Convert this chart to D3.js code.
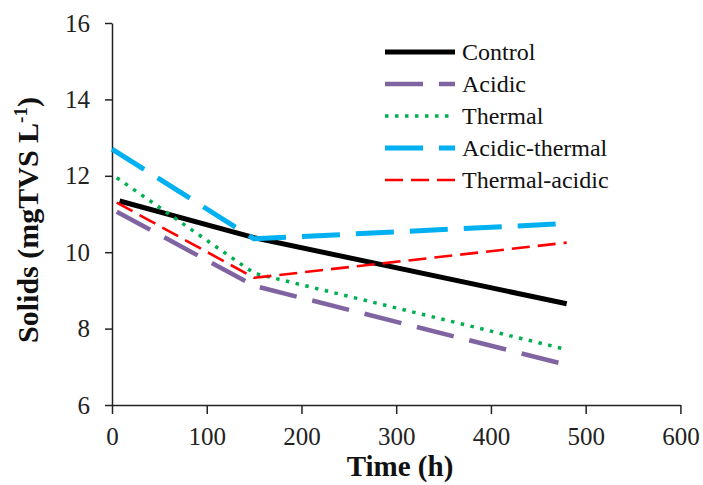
<!DOCTYPE html>
<html>
<head>
<meta charset="utf-8">
<script src="https://cdn.jsdelivr.net/npm/d3@7"></script>
<style>
  html, body { margin: 0; padding: 0; background: #fff; }
  svg { display: block; }
</style>
</head>
<body>
<svg id="chart" width="703" height="485"></svg>
<script>
// ---- data ----
const seriesNames = ["Control", "Acidic", "Thermal", "Acidic-thermal", "Thermal-acidic"];
const controlTime = [8, 150, 480];
const controlValues = [11.34, 10.38, 8.65];
const acidicTime = [5, 150, 480];
const acidicValues = [11.06, 9.12, 7.05];
const thermalTime = [5, 150, 480];
const thermalValues = [11.95, 9.45, 7.45];
const acidicThermalTime = [0, 150, 480];
const acidicThermalValues = [12.7, 10.35, 10.75];
const thermalAcidicTime = [5, 150, 480];
const thermalAcidicValues = [11.3, 9.33, 10.25];
const xTicks = [0, 100, 200, 300, 400, 500, 600];
const yTicks = [6, 8, 10, 12, 14, 16];

// ---- styles ----
const styles = [
  { color: "#000000", width: 5, dash: null, cap: "butt" },
  { color: "#8064a2", width: 4.5, dash: "38,16", cap: "butt" },
  { color: "#00b050", width: 3.5, dash: "3.5,6.5", cap: "butt" },
  { color: "#00b0f0", width: 5, dash: "38,16", cap: "butt" },
  { color: "#ff0000", width: 2.6, dash: "18,8", cap: "butt" }
];
const seriesData = [
  [controlTime, controlValues],
  [acidicTime, acidicValues],
  [thermalTime, thermalValues],
  [acidicThermalTime, acidicThermalValues],
  [thermalAcidicTime, thermalAcidicValues]
].map(([t, v]) => t.map((d, i) => ({ t: d, v: v[i] })));

const svg = d3.select("#chart");
const x = d3.scaleLinear().domain([0, 600]).range([112, 680.4]);
const y = d3.scaleLinear().domain([6, 16]).range([405, 23]);
const font = "'Liberation Serif', 'Times New Roman', serif";
const axisColor = "#222";

// minor ticks
const gx = svg.append("g").attr("transform", "translate(0,405)");
gx.call(d3.axisBottom(x).tickValues(d3.range(50, 600, 100)).tickSize(6).tickFormat(""))
  .call(g => g.select(".domain").remove());
gx.call(d3.axisBottom(x).tickValues(xTicks).tickSize(9).tickSizeOuter(0).tickPadding(13).tickFormat(d3.format("d")));
gx.selectAll("line, path").attr("stroke", axisColor).attr("stroke-width", 1.5);
gx.selectAll("text").attr("font-family", font).attr("font-size", 25).attr("fill", "#222");

const gy = svg.append("g").attr("transform", "translate(112,0)");
gy.call(d3.axisLeft(y).tickValues(d3.range(7, 16, 2)).tickSize(5).tickFormat(""))
  .call(g => g.select(".domain").remove());
gy.call(d3.axisLeft(y).tickValues(yTicks).tickSize(7).tickSizeOuter(0).tickPadding(15).tickFormat(d3.format("d")));
gy.selectAll("line, path").attr("stroke", axisColor).attr("stroke-width", 1.5);
gy.selectAll("text").attr("font-family", font).attr("font-size", 25).attr("fill", "#222");

// lines
const line = d3.line().x(d => x(d.t)).y(d => y(d.v));
seriesData.forEach((data, i) => {
  const s = styles[i];
  svg.append("path")
    .datum(data)
    .attr("d", line)
    .attr("fill", "none")
    .attr("stroke", s.color)
    .attr("stroke-width", s.width)
    .attr("stroke-dasharray", s.dash)
    .attr("stroke-linecap", s.cap)
    .attr("stroke-linejoin", "round");
});

// legend
const legY = d3.scalePoint().domain(seriesNames).range([52, 180]);
const leg = svg.append("g");
seriesNames.forEach((name, i) => {
  const s = styles[i];
  leg.append("line")
    .attr("x1", 385).attr("x2", 455)
    .attr("y1", legY(name)).attr("y2", legY(name))
    .attr("stroke", s.color)
    .attr("stroke-width", s.width)
    .attr("stroke-dasharray", s.dash)
    .attr("stroke-linecap", s.cap);
  leg.append("text")
    .attr("x", 462).attr("y", legY(name))
    .attr("dy", "0.33em")
    .attr("font-family", font)
    .attr("font-size", 24)
    .attr("fill", "#111")
    .text(name);
});

// axis titles
svg.append("text")
  .attr("x", 400).attr("y", 476)
  .attr("text-anchor", "middle")
  .attr("font-family", font)
  .attr("font-weight", "bold")
  .attr("font-size", 29)
  .attr("fill", "#111")
  .text("Time (h)");

const yt = svg.append("text")
  .attr("transform", "translate(38,220) rotate(-90)")
  .attr("text-anchor", "middle")
  .attr("font-family", font)
  .attr("font-weight", "bold")
  .attr("font-size", 30)
  .attr("fill", "#111");
yt.append("tspan").text("Solids (mgTVS L");
yt.append("tspan").attr("font-size", 19).attr("dy", -11).text("-1");
yt.append("tspan").attr("dy", 11).text(")");
</script>
</body>
</html>
